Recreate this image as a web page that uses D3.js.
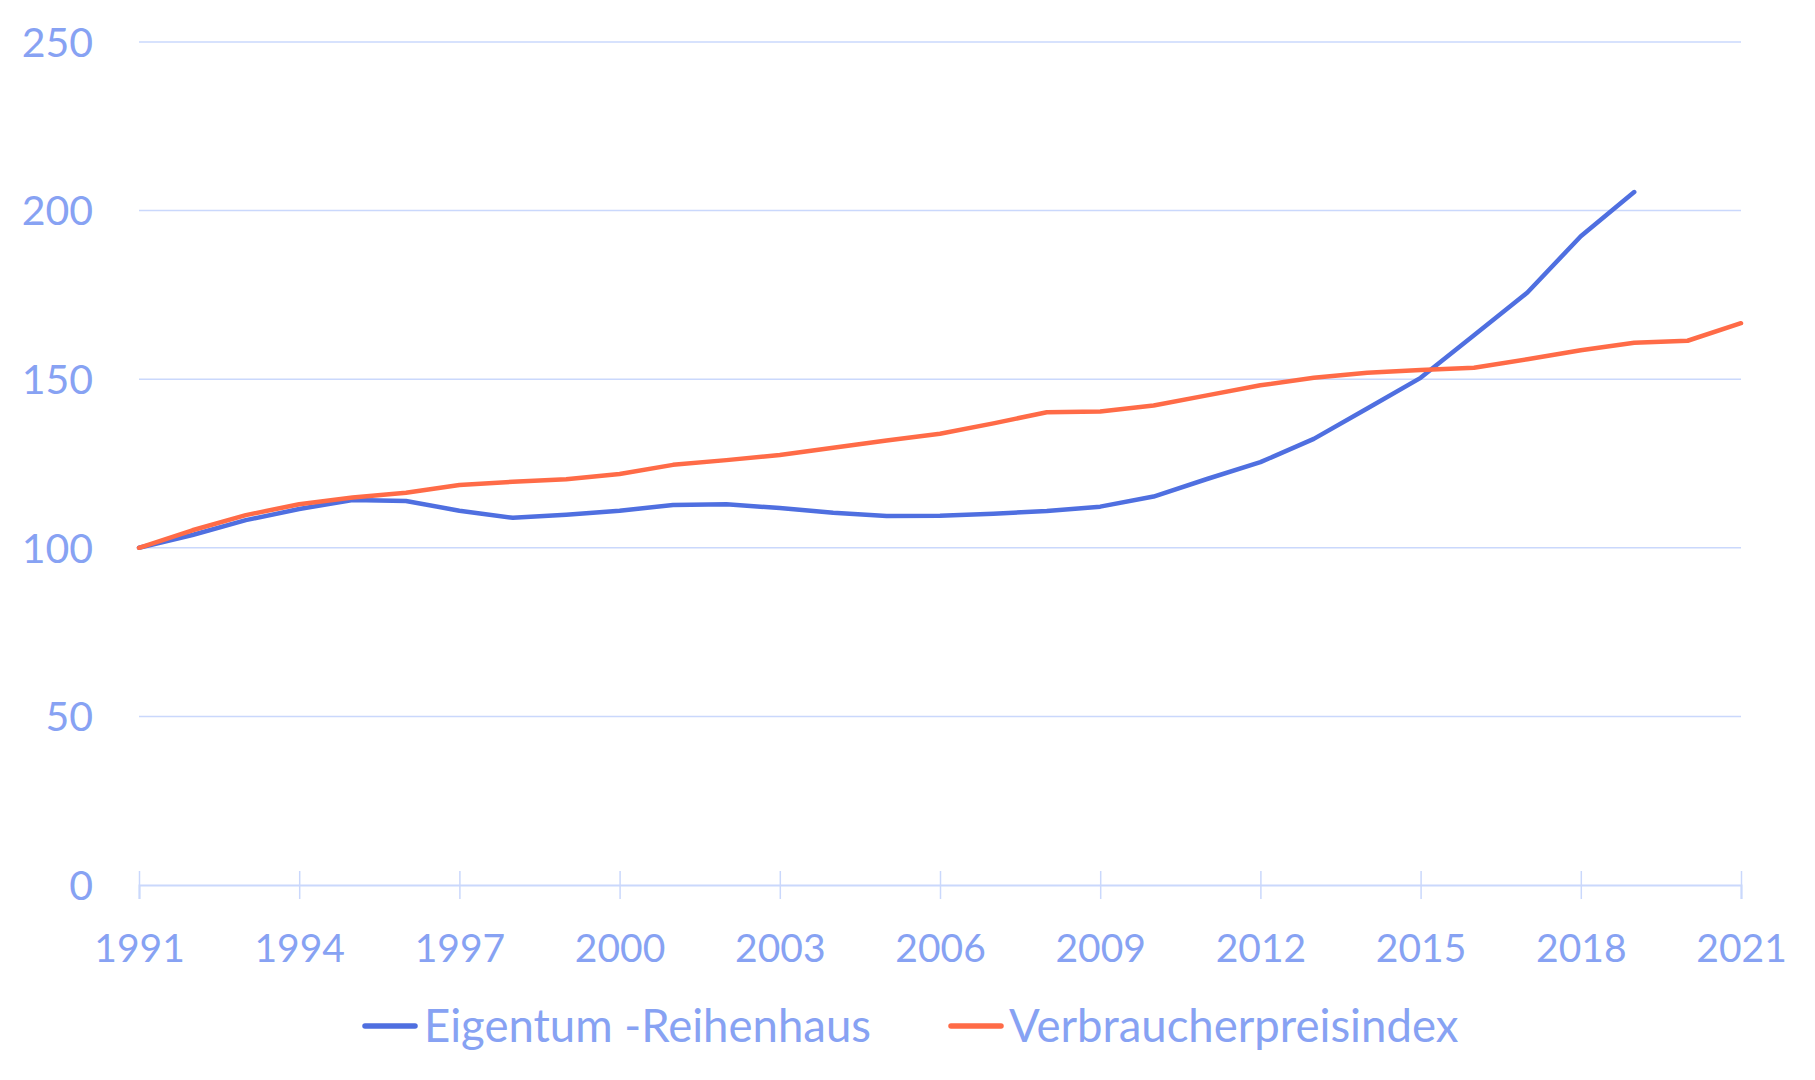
<!DOCTYPE html>
<html><head><meta charset="utf-8">
<script src="https://cdn.jsdelivr.net/npm/d3@7"></script>
<style>body{margin:0;background:#fff}svg{display:block}text{font-family:Lato,sans-serif}</style>
</head><body><svg id="c" width="1815" height="1080"></svg>
<script>
const years = d3.range(1991, 2022);
const eigentum = [100,103.8,108.2,111.5,114.2,113.9,111.0,108.9,109.8,111.0,112.7,112.9,111.8,110.4,109.4,109.5,110.1,110.9,112.2,115.2,120.4,125.4,132.3,141.3,150.4,163.0,175.7,192.4,205.5];
const vpi = [100,105.2,109.7,112.9,114.9,116.3,118.6,119.6,120.3,121.9,124.6,126.0,127.5,129.7,131.8,133.8,136.9,140.2,140.4,142.2,145.2,148.2,150.4,151.9,152.7,153.4,155.9,158.6,160.8,161.4,166.6];
const yTicks = [0,50,100,150,200,250];
const xTicks = [1991,1994,1997,2000,2003,2006,2009,2012,2015,2018,2021];
const seriesNames = ["Eigentum -Reihenhaus","Verbraucherpreisindex"];
const colors = ["#4f6fe0","#ff6b47"];
const textColor = "#87a2f3", gridColor = "#cad8fc";

const svg = d3.select("#c");
const m = {l:139, r:74, t:42, b:195};
const W = 1815, H = 1080;
const x = d3.scaleLinear().domain([1991,2021]).range([m.l, W-m.r]);
const y = d3.scaleLinear().domain([0,250]).range([H-m.b, m.t]);

// grid
svg.append("g").selectAll("line").data(yTicks.filter(d=>d>0)).join("line")
  .attr("x1", m.l).attr("x2", W-m.r).attr("y1", d=>y(d)).attr("y2", d=>y(d))
  .attr("stroke", gridColor).attr("stroke-width", 1.5);
// y labels
svg.append("g").selectAll("text").data(yTicks).join("text")
  .attr("x", 93).attr("y", d=>y(d)).attr("dy","0.36em").attr("text-anchor","end")
  .attr("fill", textColor).attr("font-size", 41).text(d=>d);
// x axis
const xa = svg.append("g").attr("transform", `translate(0,${y(0)})`)
  .call(d3.axisBottom(x).tickValues(xTicks).tickFormat(d3.format("d")).tickSize(14).tickPadding(35));
xa.select(".domain").attr("stroke", gridColor).attr("stroke-width", 2);
xa.selectAll(".tick line").attr("stroke", gridColor).attr("stroke-width",1.5).attr("y1",-14);
xa.selectAll(".tick text").attr("fill", textColor).attr("font-size", 39).attr("font-family","Lato,sans-serif");

const line = d3.line().x((d,i)=>x(years[i])).y(d=>y(d));
[eigentum, vpi].forEach((s,i)=>{
  svg.append("path").datum(s).attr("d", line).attr("fill","none")
    .attr("stroke", colors[i]).attr("stroke-width", 4.5).attr("stroke-linejoin","round").attr("stroke-linecap","round");
});

// legend
const lg = [{x1:365,x2:415,tx:424},{x1:951,x2:1001,tx:1009}];
lg.forEach((p,i)=>{
  svg.append("line").attr("x1",p.x1).attr("x2",p.x2).attr("y1",1026).attr("y2",1026)
    .attr("stroke",colors[i]).attr("stroke-width",5.5).attr("stroke-linecap","round");
  svg.append("text").attr("x",p.tx).attr("y",1026).attr("dy","0.36em").attr("fill",textColor)
    .attr("font-size",45.5).text(seriesNames[i]);
});
</script></body></html>
